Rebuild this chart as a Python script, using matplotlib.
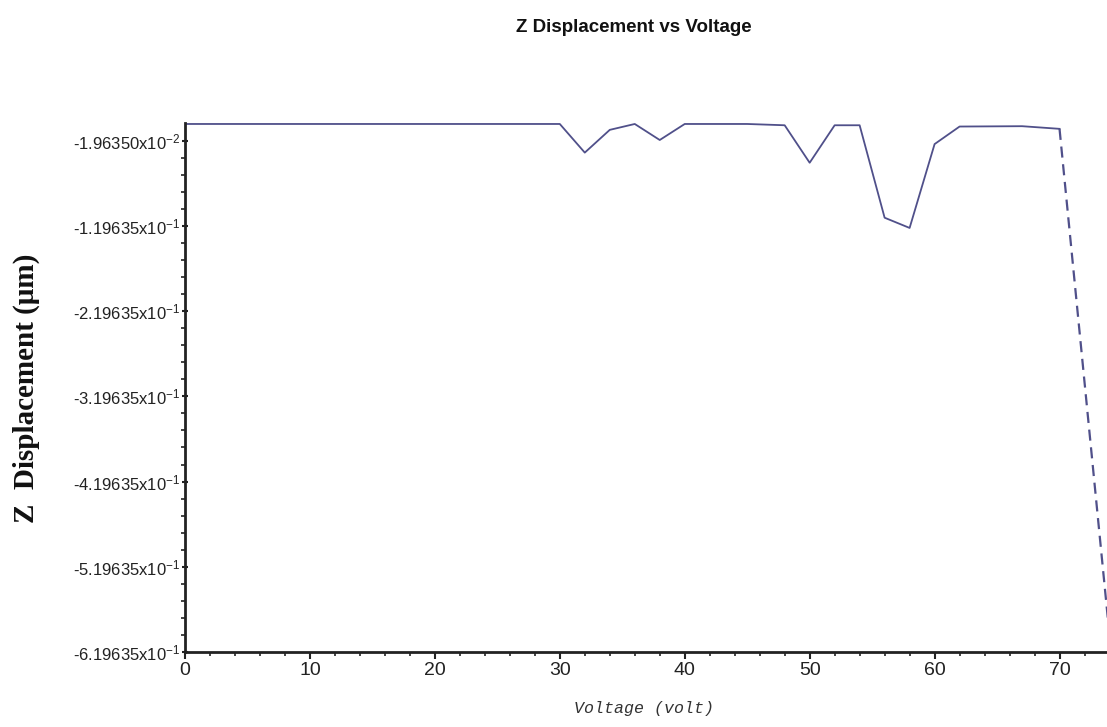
import numpy as np
import matplotlib.pyplot as plt
from matplotlib.ticker import MultipleLocator, FixedLocator

# data
voltage = [0, 30, 32, 34, 36, 38, 40, 45, 48, 50, 52, 54, 56, 58, 60, 62, 67, 70, 74]
z_disp = [0.0, 0.0, -0.0336, -0.0069, 0.0, -0.0188, 0.0, 0.0, -0.0015, -0.0455,
          -0.0015, -0.0015, -0.110, -0.122, -0.0236, -0.0030, -0.0026, -0.0057, -0.600]

y_ticks = [-0.0196350, -0.119635, -0.219635, -0.319635, -0.419635, -0.519635, -0.619635]
y_tick_labels = ['-1.96350x10$^{-2}$', '-1.19635x10$^{-1}$', '-2.19635x10$^{-1}$',
                 '-3.19635x10$^{-1}$', '-4.19635x10$^{-1}$', '-5.19635x10$^{-1}$',
                 '-6.19635x10$^{-1}$']

plt.rcParams['font.family'] = ['Liberation Sans', 'DejaVu Sans']
plt.rcParams['mathtext.default'] = 'regular'

fig = plt.figure(figsize=(11.07, 7.27), dpi=100)
ax = fig.add_axes([185 / 1107, 1 - 652 / 727, 1 - 185 / 1107, (652 - 122.7) / 727])

line_color = '#50508a'
# solid part, then the steep final drop looks dashed
ax.plot(voltage[:-1], z_disp[:-1], color=line_color, lw=1.3)
ax.plot(voltage[-2:], z_disp[-2:], color=line_color, lw=1.6, ls=(0, (5, 3)))

ax.set_xlim(0, 73.8)
ax.set_ylim(-0.619635, 0.0015)

ax.xaxis.set_major_locator(MultipleLocator(10))
ax.xaxis.set_minor_locator(MultipleLocator(2))
ax.yaxis.set_major_locator(FixedLocator(y_ticks))
ax.yaxis.set_minor_locator(FixedLocator(np.arange(-0.619635, 0.0, 0.02)))
ax.set_yticklabels(y_tick_labels)

for s in ['top', 'right']:
    ax.spines[s].set_visible(False)
for s in ['left', 'bottom']:
    ax.spines[s].set_linewidth(2)
    ax.spines[s].set_color('#222222')

ax.tick_params(axis='x', which='major', direction='out', length=5, width=1.5,
               labelsize=14, colors='#222222', pad=2)
ax.tick_params(axis='x', which='minor', direction='out', length=3, width=1.2, colors='#222222')
ax.tick_params(axis='y', which='major', direction='inout', length=5, width=1.5,
               labelsize=12, colors='#222222', pad=1)
ax.tick_params(axis='y', which='minor', direction='out', length=3, width=1.2, colors='#222222')

fig.text(634 / 1107, 1 - 27 / 727, 'Z Displacement vs Voltage', ha='center', va='center',
         fontsize=13.5, fontweight='bold', color='#111111')
fig.text(644 / 1107, 1 - 709 / 727, 'Voltage (volt)', ha='center', va='center',
         fontsize=12, style='italic', family='Liberation Mono', color='#333333')
fig.text(26 / 1107, 1 - 388 / 727, 'Z  Displacement (\u03bcm)', ha='center', va='center',
         rotation=90, fontsize=21, fontweight='bold', family='Liberation Serif', color='#111111')

fig.savefig('out.png', dpi=100)
